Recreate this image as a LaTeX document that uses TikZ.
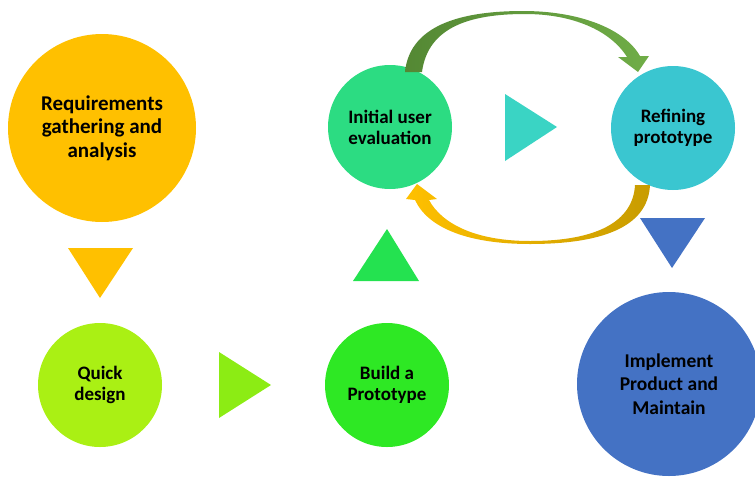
\documentclass[tikz,border=0pt]{standalone}
\usepackage{fontspec}
\setmainfont{Carlito}
\definecolor{reqgold}{RGB}{255,192,0}
\definecolor{quicklime}{RGB}{170,240,20}
\definecolor{trilime}{RGB}{140,236,20}
\definecolor{buildgreen}{RGB}{46,232,36}
\definecolor{trigreen}{RGB}{36,226,80}
\definecolor{initgreen}{RGB}{44,220,130}
\definecolor{tricyan}{RGB}{58,212,196}
\definecolor{refinecyan}{RGB}{58,198,208}
\definecolor{implblue}{RGB}{68,114,196}
\definecolor{arcgreendark}{RGB}{84,136,52}
\definecolor{arcgreenlight}{RGB}{112,173,71}
\definecolor{arcgoldlight}{RGB}{255,192,0}
\definecolor{arcgolddark}{RGB}{200,156,0}
\tikzset{
  phase/.style={circle,inner sep=0pt,minimum size=124pt,align=center,text=black,
    font=\bfseries\fontsize{19}{21}\selectfont},
  bigphase/.style={phase,minimum size=188pt,font=\bfseries\fontsize{21}{23.5}\selectfont}
}
\begin{document}
\begin{tikzpicture}[x=1pt,y=-1pt]
        \useasboundingbox (0,0) rectangle (755,477);
        \clip (0,0) rectangle (755,477);
        % phases
        \node[bigphase,fill=reqgold] (req) at (102,128) {Requirements\\gathering and\\analysis};
        \node[phase,fill=quicklime] (quick) at (100,385) {Quick\\design};
        \node[phase,fill=buildgreen] (build) at (387,385) {Build a\\Prototype};
        \node[phase,fill=initgreen] (init) at (390,127) {Initial user\\evaluation};
        \node[phase,fill=refinecyan] (refine) at (673,128) {Refining\\prototype};
        \node[bigphase,fill=implblue,minimum size=184pt,font=\bfseries\fontsize{19.5}{23.5}\selectfont] (impl) at (669,384) {Implement\\Product and\\Maintain};
        % step triangles
        \fill[reqgold] (68,248)--(133,248)--(100,298)--cycle;
        \fill[trilime] (219,352)--(271,385)--(219,418)--cycle;
        \fill[trigreen] (353,281)--(419,281)--(387,229)--cycle;
        \fill[tricyan] (505,94)--(557,127)--(505,161)--cycle;
        \fill[implblue] (640,218)--(705,218)--(672,268)--cycle;
        % feedback loop (tapered curved arrows)
        \shade[left color=arcgreendark,right color=arcgreenlight]
          (405,72) .. controls (410,22) and (468,11) .. (523,11)
          .. controls (578,11) and (624,28) .. (640,56)
          -- (649,56) -- (638,72) -- (618,57) -- (627,57)
          .. controls (610,30) and (572,14) .. (525,14)
          .. controls (472,14) and (428,26) .. (422,72) -- cycle;
        \shade[left color=arcgoldlight,right color=arcgolddark]
          (650,185) .. controls (648,228) and (600,244) .. (530,244)
          .. controls (468,244) and (428,228) .. (415,200)
          -- (406,199) -- (417,184) -- (437,199) -- (429,200)
          .. controls (442,224) and (476,241) .. (530,241)
          .. controls (596,241) and (633,222) .. (635,185) -- cycle;
\end{tikzpicture}
\end{document}
